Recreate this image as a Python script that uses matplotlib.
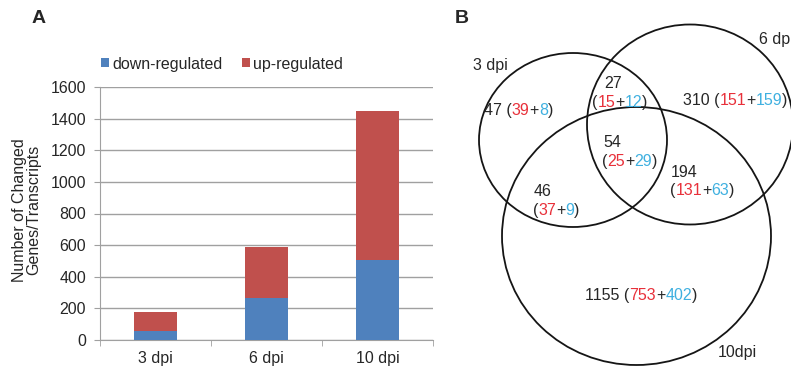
import matplotlib
matplotlib.use("Agg")
import matplotlib.pyplot as plt
from matplotlib.patches import Ellipse
import numpy as np

plt.rcParams['font.family'] = ['Liberation Sans', 'DejaVu Sans']

# ---- Panel A data ----
categories = ['3 dpi', '6 dpi', '10 dpi']
down_regulated = [58, 263, 503]
up_regulated = [116, 322, 946]
yticks = [0, 200, 400, 600, 800, 1000, 1200, 1400, 1600]

# ---- Panel B data (Venn regions) ----
region_total = [47, 27, 310, 54, 194, 46, 1155]
region_up = [39, 15, 151, 25, 131, 37, 753]
region_down = [8, 12, 159, 29, 63, 9, 402]
set_labels = ['3 dpi', '6 dp', '10dpi']

C_DOWN = '#4f81bd'
C_UP = '#c0504d'
T_RED = '#e8303a'
T_BLUE = '#3fb0e0'
TXT = '#262626'
GRID = '#a0a0a0'
FS = 11.5

W, H = 791, 372
fig = plt.figure(figsize=(W / 100, H / 100), dpi=100)

# overlay axes in pixel coordinates
ov = fig.add_axes([0, 0, 1, 1])
ov.set_xlim(0, W)
ov.set_ylim(H, 0)
ov.axis('off')
ov.patch.set_visible(False)

# ---- Panel A ----
ax = fig.add_axes([100 / W, 1 - 340 / H, 333 / W, 253 / H])
x = np.arange(len(categories))
ax.bar(x, down_regulated, width=0.39, color=C_DOWN, label='down-regulated', zorder=3)
ax.bar(x, up_regulated, width=0.39, bottom=down_regulated, color=C_UP,
       label='up-regulated', zorder=3)
ax.set_xlim(-0.5, 2.5)
ax.set_ylim(0, 1600)
ax.set_yticks(yticks)
ax.yaxis.grid(True, color=GRID, linewidth=1.0, zorder=0)
ax.set_xticks(x)
ax.set_xticklabels(categories, fontsize=FS, color=TXT)
ax.set_xticks([-0.5, 0.5, 1.5, 2.5], minor=True)
ax.tick_params(axis='x', which='major', length=0, pad=8)
ax.tick_params(axis='x', which='minor', length=4, color=GRID, direction='out')
ax.tick_params(axis='y', length=4, color=GRID, labelsize=FS, labelcolor=TXT, pad=6)
for s in ['top', 'right']:
    ax.spines[s].set_visible(False)
for s in ['left', 'bottom']:
    ax.spines[s].set_color(GRID)

leg = fig.legend(loc='center left', bbox_to_anchor=(101 / W, 1 - 64 / H), ncol=2,
                 frameon=False, fontsize=FS, handlelength=0.5, handleheight=0.5,
                 handletextpad=0.2, columnspacing=1.2, borderpad=0, borderaxespad=0)
for t in leg.get_texts():
    t.set_color(TXT)

fig.text(27 / W, 1 - 210 / H, 'Number of Changed\nGenes/Transcripts', rotation=90,
         ha='center', va='center', fontsize=FS, color=TXT, linespacing=0.95)

ov.text(32, 23, 'A', fontsize=14, fontweight='bold', color=TXT, va='baseline')
ov.text(455, 23, 'B', fontsize=14, fontweight='bold', color=TXT, va='baseline')

# ---- Panel B: circles ----
circles = [((573, 140), 188, 174), ((690, 124.5), 206, 200), ((636.5, 236), 269, 258)]
for (c, w, h) in circles:
    ov.add_patch(Ellipse(c, w, h, fill=False, edgecolor='#151515', linewidth=1.3))

ov.text(473, 70, set_labels[0], fontsize=FS, color=TXT, va='baseline')
ov.text(759, 44, set_labels[1], fontsize=FS, color=TXT, va='baseline')
ov.text(718, 357, set_labels[2], fontsize=FS, color=TXT, va='baseline')


def colored(x0, y0, parts):
    t = ov.text(x0, y0, parts[0][0], color=parts[0][1], fontsize=FS, va='baseline')
    for s, c in parts[1:]:
        t = ov.annotate(s, xy=(1, 0), xycoords=t, va='bottom', ha='left',
                        color=c, fontsize=FS)


def region(i, pos_total, pos_paren, one_line):
    tot, up, dn = region_total[i], region_up[i], region_down[i]
    if one_line:
        colored(pos_total[0], pos_total[1],
                [(f'{tot} (', TXT), (str(up), T_RED), ('+', TXT), (str(dn), T_BLUE), (')', TXT)])
    else:
        ov.text(pos_total[0], pos_total[1], str(tot), color=TXT, fontsize=FS, va='baseline')
        colored(pos_paren[0], pos_paren[1],
                [('(', TXT), (str(up), T_RED), ('+', TXT), (str(dn), T_BLUE), (')', TXT)])


region(0, (484, 115), None, True)
region(1, (604, 88), (592, 107), False)
region(2, (683, 105), None, True)
region(3, (603, 147), (602, 166), False)
region(4, (671, 177), (670, 195), False)
region(5, (534, 196), (533, 215), False)
region(6, (585, 300), None, True)

fig.savefig('out.png', dpi=100)
